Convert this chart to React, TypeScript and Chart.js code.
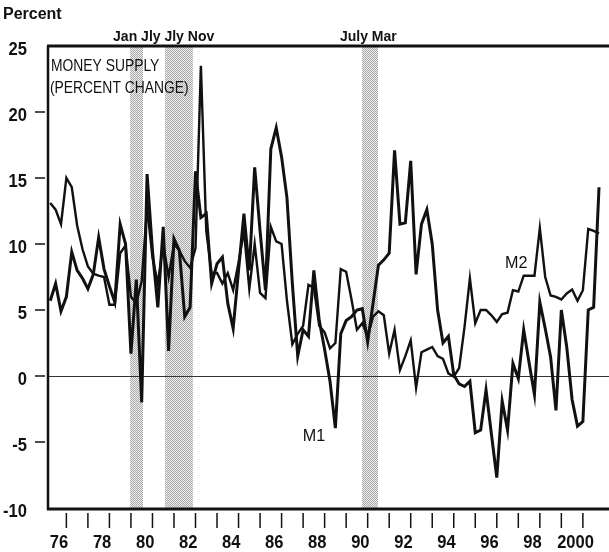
import React, { useEffect, useRef } from "react";
import { Chart, registerables } from "chart.js";
Chart.register(...registerables);

// Quarterly growth, 1976Q1 .. 2001Q3 (percent, annual rate)
const M1: number[] = [
  5.7, 7.0, 4.9, 6.0,
  9.4, 8.0, 7.4, 6.6,
  7.7, 10.5, 8.1, 6.8,
  5.6, 11.5, 10.0, 1.7,
  7.3, -2.0, 15.3, 9.5,
  5.2, 11.3, 1.9, 10.4,
  9.5, 4.5, 5.2, 15.5,
  12.0, 12.3, 7.0, 8.5,
  9.0, 5.5, 3.6, 8.0,
  12.3, 8.0, 15.8, 11.0,
  6.5, 17.2, 18.8, 16.6,
  13.5, 7.0, 1.5, 3.5,
  3.0, 8.0, 4.2, 2.0,
  -0.4, -3.95, 3.2, 4.2,
  4.5, 5.0, 5.1, 2.6,
  5.5, 8.4, 8.8, 9.3,
  17.1, 11.5, 11.6, 16.3,
  7.7, 11.5, 12.6, 10.0,
  5.0, 2.5, 3.0, 0.1,
  -0.6, -0.8, -0.4, -4.3,
  -4.1, -1.05, -4.4, -7.7,
  -1.9, -4.1, 0.95, -0.2,
  3.5, 1.0, -1.4, 5.6,
  3.6, 1.45, -2.6, 5.0,
  2.2, -1.8, -3.8, -3.45,
  5.0, 5.2, 14.3,
];
const M2: number[] = [
  13.1, 12.6, 11.5, 15.0,
  14.3, 11.4, 9.6, 8.3,
  7.75, 7.6, 7.5, 5.4,
  5.4, 9.3, 9.9, 6.0,
  5.5, 7.2, 12.8, 9.0,
  7.0, 10.0, 7.5, 10.0,
  9.5, 8.7, 8.2, 9.7,
  23.5, 11.0, 7.8, 7.8,
  7.0, 7.8, 6.5, 8.6,
  11.0, 6.6, 10.0, 6.3,
  5.9, 11.3, 10.2, 10.0,
  5.7, 2.4, 3.2, 3.8,
  6.9, 6.7, 3.8, 3.3,
  2.1, 2.5, 8.1, 7.9,
  5.8, 3.5, 4.0, 3.0,
  4.5, 4.9, 4.6, 1.7,
  3.5, 0.45, 1.5, 2.7,
  -0.9, 1.8, 2.0, 2.2,
  1.5, 1.3, 0.2, -0.05,
  0.6, 3.7, 7.4, 4.0,
  5.0, 5.0, 4.6, 4.1,
  4.7, 4.8, 6.5, 6.4,
  7.6, 7.6, 7.6, 11.2,
  7.5, 6.1, 6.0, 5.8,
  6.25, 6.55, 5.7, 6.5,
  11.15, 11.0, 10.8,
];

const START_YEAR = 1976;
const quarters: string[] = M1.map((_, i) => `${START_YEAR + Math.floor(i / 4)}Q${(i % 4) + 1}`);
// plotted at quarter end
const quarterTime = (q: string) => Number(q.slice(0, 4)) + Number(q.slice(5)) * 0.25;

const Y_TICKS = [25, 20, 15, 10, 5, 0, -5, -10];
const X_LABEL_YEARS = [1976, 1978, 1980, 1982, 1984, 1986, 1988, 1990, 1992, 1994, 1996, 1998, 2000];
const X_LABELS = ["76", "78", "80", "82", "84", "86", "88", "90", "92", "94", "96", "98", "2000"];
const X_TICK_YEARS = Array.from({ length: 25 }, (_, i) => 1977 + i);

const RECESSION_START = [1979.96, 1981.58, 1990.74];
const RECESSION_END = [1980.56, 1982.88, 1991.48];
const RECESSION_TEXT = ["Jan Jly Jly Nov", "July Mar"];
const RECESSION_TEXT_AT = [1979.17, 1989.71];

const X_MIN = 1976.146;
const X_MAX = 2002.214;
const FONT = "'Liberation Sans', Arial, Helvetica, sans-serif";

function drawText(
  ctx: CanvasRenderingContext2D, s: string, x: number, y: number, font: string,
  align: CanvasTextAlign = "left", sx = 1, color = "#111"
) {
  ctx.save();
  ctx.font = font;
  ctx.fillStyle = color;
  ctx.textAlign = align;
  ctx.textBaseline = "alphabetic";
  ctx.translate(x, y);
  ctx.scale(sx, 1);
  ctx.fillText(s, 0, 0);
  ctx.restore();
}

export default function App() {
  const ref = useRef<HTMLCanvasElement>(null);

  useEffect(() => {
    const canvas = ref.current!;
    const pc = document.createElement("canvas");
    pc.width = 2;
    pc.height = 2;
    const pctx = pc.getContext("2d")!;
    pctx.fillStyle = "#eeeeee";
    pctx.fillRect(0, 0, 2, 2);
    pctx.fillStyle = "#a9a9a9";
    pctx.fillRect(0, 0, 1, 1);
    pctx.fillRect(1, 1, 1, 1);
    const pattern = canvas.getContext("2d")!.createPattern(pc, "repeat")!;

    const decor = {
      id: "decor",
      beforeDatasetsDraw(chart: any) {
        const { ctx, chartArea: a, scales } = chart;
        const x = scales.x, y = scales.y;
        ctx.save();
        ctx.fillStyle = pattern;
        RECESSION_START.forEach((s, i) => {
          const x0 = x.getPixelForValue(s);
          const x1 = x.getPixelForValue(RECESSION_END[i]);
          ctx.fillRect(x0, a.top, x1 - x0, a.bottom - a.top);
        });
        const y0 = Math.round(y.getPixelForValue(0)) + 0.5;
        ctx.strokeStyle = "#333";
        ctx.lineWidth = 1;
        ctx.beginPath();
        ctx.moveTo(a.left, y0);
        ctx.lineTo(a.right, y0);
        ctx.stroke();
        ctx.restore();
      },
      afterDraw(chart: any) {
        const { ctx, chartArea: a, scales } = chart;
        const x = scales.x, y = scales.y;
        ctx.save();
        ctx.strokeStyle = "#111";
        ctx.lineCap = "butt";
        ctx.lineWidth = 3;
        ctx.beginPath();
        ctx.moveTo(a.left - 1, a.top);
        ctx.lineTo(a.right, a.top);
        ctx.stroke();
        ctx.beginPath();
        ctx.moveTo(a.left - 1, a.bottom + 1);
        ctx.lineTo(a.right, a.bottom + 1);
        ctx.stroke();
        ctx.lineWidth = 2.5;
        ctx.beginPath();
        ctx.moveTo(a.left, a.top);
        ctx.lineTo(a.left, a.bottom + 2);
        ctx.stroke();
        ctx.lineWidth = 1.5;
        Y_TICKS.forEach((v) => {
          const py = y.getPixelForValue(v);
          if (v !== 25 && v !== -10) {
            ctx.beginPath();
            ctx.moveTo(a.left - 13, py);
            ctx.lineTo(a.left - 3, py);
            ctx.stroke();
          }
          drawText(ctx, String(v), 27, py + 9, `bold 18px ${FONT}`, "right", 0.92);
        });
        X_TICK_YEARS.forEach((yr) => {
          const px = x.getPixelForValue(yr);
          ctx.beginPath();
          ctx.moveTo(px, a.bottom + 5);
          ctx.lineTo(px, a.bottom + 20);
          ctx.stroke();
        });
        X_LABEL_YEARS.forEach((yr, i) => {
          const px = x.getPixelForValue(yr + 0.66);
          drawText(ctx, X_LABELS[i], px, 548, `bold 18px ${FONT}`, "center", 0.92);
        });
        drawText(ctx, "Percent", 3, 19, `bold 16px ${FONT}`, "left", 1);
        RECESSION_TEXT.forEach((t, i) => {
          drawText(ctx, t, x.getPixelForValue(RECESSION_TEXT_AT[i]), 41, `bold 14px ${FONT}`, "left", 1);
        });
        drawText(ctx, "MONEY SUPPLY", a.left + 3, 70.5, `16.5px ${FONT}`, "left", 0.84);
        drawText(ctx, "(PERCENT CHANGE)", a.left + 2, 93, `16.5px ${FONT}`, "left", 0.84);
        drawText(ctx, "M1", x.getPixelForValue(1987.98), y.getPixelForValue(-4.96), `17px ${FONT}`, "left", 0.95);
        drawText(ctx, "M2", x.getPixelForValue(1997.38), y.getPixelForValue(8.18), `17px ${FONT}`, "left", 0.95);
        ctx.restore();
      },
    };

    const chart = new Chart(canvas, {
      type: "line",
      data: {
        datasets: [
          {
            label: "M2",
            data: M2.map((v, i) => ({ x: quarterTime(quarters[i]), y: v })),
            borderColor: "#111",
            borderWidth: 2.4,
            pointRadius: 0,
            tension: 0,
            fill: false,
          },
          {
            label: "M1",
            data: M1.map((v, i) => ({ x: quarterTime(quarters[i]), y: v })),
            borderColor: "#111",
            borderWidth: 3,
            pointRadius: 0,
            tension: 0,
            fill: false,
          },
        ],
      },
      options: {
        animation: false,
        responsive: false,
        maintainAspectRatio: false,
        layout: { padding: { top: 46, left: 0, right: 0, bottom: 0 } },
        plugins: { legend: { display: false }, tooltip: { enabled: false } },
        scales: {
          x: {
            type: "linear",
            min: X_MIN,
            max: X_MAX,
            ticks: { display: false },
            grid: { display: false },
            border: { display: false },
            afterFit: (s: any) => {
              s.height = 44;
              s.paddingLeft = 0;
              s.paddingRight = 0;
            },
          },
          y: {
            min: -10,
            max: 25,
            ticks: { display: false },
            grid: { display: false },
            border: { display: false },
            afterFit: (s: any) => {
              s.width = 48;
              s.paddingTop = 0;
              s.paddingBottom = 0;
            },
          },
        },
      },
      plugins: [decor],
    } as any);
    return () => chart.destroy();
  }, []);

  return (
    <div style={{ position: "fixed", left: 0, top: 0, width: 609, height: 552, background: "#fff" }}>
      <canvas ref={ref} width={609} height={552} style={{ display: "block", width: 609, height: 552 }} />
    </div>
  );
}
